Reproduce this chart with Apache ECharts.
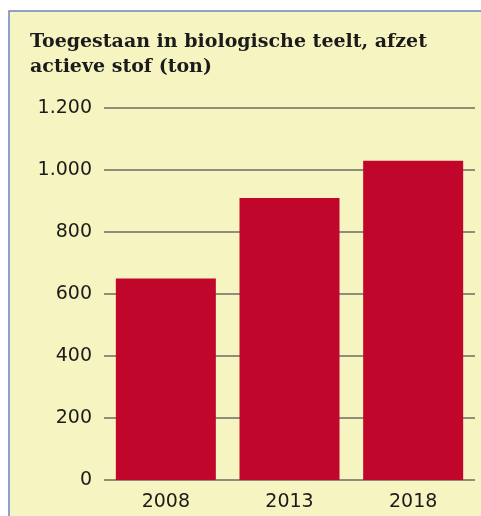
<!DOCTYPE html>
<html>
<head>
<meta charset="utf-8">
<script src="https://cdn.jsdelivr.net/npm/echarts@6/dist/echarts.min.js"></script>
<style>
  html, body { margin: 0; padding: 0; background: #ffffff; }
  #chart { width: 481px; height: 516px; }
</style>
</head>
<body>
<div id="chart"></div>
<script>
/* ================================
   DATA
================================ */
const years  = ["2008", "2013", "2018"];
const tonnes = [650, 910, 1030];

/* ================================
   CHART
================================ */
const chart = echarts.init(document.getElementById("chart"));

// dutch thousands separator: 1200 -> 1.200
const fmt = v => String(v).replace(/\B(?=(\d{3})+(?!\d))/g, ".");

chart.setOption({
  animation: false,
  backgroundColor: "#ffffff",
  graphic: [
    {
      type: "rect",
      shape: { x: 9, y: 11, width: 480, height: 520 },
      style: { fill: "#f6f4c1", stroke: "#6f83c4", lineWidth: 1.5 },
      z: -10
    }
  ],
  title: {
    text: "Toegestaan in biologische teelt, afzet\nactieve stof (ton)",
    left: 25,
    top: 25,
    textStyle: {
      fontFamily: "DejaVu Serif",
      fontWeight: "bold",
      fontSize: 19,
      lineHeight: 25,
      color: "#1b1b1b"
    }
  },
  grid: { left: 104, right: 6, top: 108, bottom: 36 },
  xAxis: {
    type: "category",
    data: years,
    axisLine: { show: false },
    axisTick: { show: false },
    axisLabel: {
      fontFamily: "DejaVu Sans",
      fontSize: 19,
      color: "#1b1b1b",
      margin: 13
    }
  },
  yAxis: {
    type: "value",
    min: 0,
    max: 1200,
    interval: 200,
    axisLine: { show: false },
    axisTick: { show: false },
    splitLine: { lineStyle: { color: "#8e8f77", width: 2 } },
    axisLabel: {
      formatter: fmt,
      fontFamily: "DejaVu Sans",
      fontSize: 19,
      color: "#1b1b1b",
      margin: 12
    }
  },
  series: [
    {
      type: "bar",
      data: tonnes,
      barWidth: 100,
      itemStyle: { color: "#c0062b" },
      z: 3
    }
  ]
});
</script>
</body>
</html>
